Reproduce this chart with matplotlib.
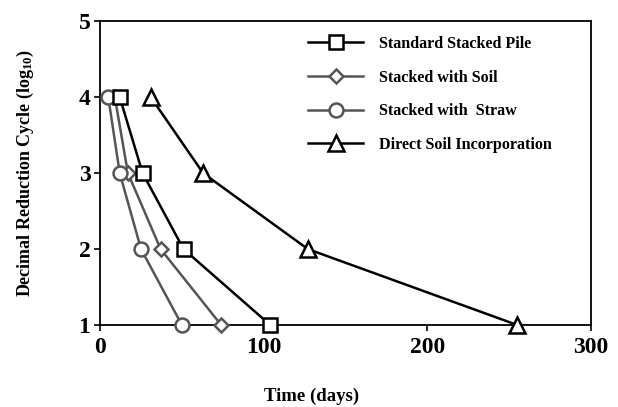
import matplotlib
matplotlib.use('Agg')
import matplotlib.pyplot as plt

plt.rcParams['font.family'] = 'Liberation Serif'
plt.rcParams['font.weight'] = 'bold'
plt.rcParams['mathtext.fontset'] = 'custom'
plt.rcParams['mathtext.rm'] = 'Liberation Serif:bold'
plt.rcParams['mathtext.bf'] = 'Liberation Serif:bold'
plt.rcParams['mathtext.default'] = 'bf'

# data
cycles = [4, 3, 2, 1]
standard_pile = [12, 26, 51, 104]
with_soil = [9, 17, 37, 74]
with_straw = [5, 12, 25, 50]
direct_soil = [31, 63, 127, 255]

# name, values, marker, colour, marker size, z-order
series = [
    ('Standard Stacked Pile', standard_pile, 's', 'black', 10, 5),
    ('Stacked with Soil', with_soil, 'D', '#555555', 7, 3),
    ('Stacked with  Straw', with_straw, 'o', '#555555', 10, 4),
    ('Direct Soil Incorporation', direct_soil, '^', 'black', 11, 3),
]

fig = plt.figure(figsize=(6.18, 4.07), dpi=100)
ax = fig.add_axes([0.162, 0.2015, 0.794, 0.746])

for name, days, mk, col, ms, z in series:
    ax.plot(days, cycles, color=col, lw=1.8, marker=mk, markersize=ms,
            markerfacecolor='white', markeredgecolor=col, markeredgewidth=1.8,
            label=name, clip_on=False, zorder=z)

ax.set_xlim(0, 300)
ax.set_ylim(1, 5)
ax.set_xticks([0, 100, 200, 300])
ax.set_yticks([1, 2, 3, 4, 5])
ax.tick_params(direction='out', length=4, width=1.2, labelsize=17, pad=3)
ax.tick_params(axis='x', pad=5)
for s in ax.spines.values():
    s.set_linewidth(1.3)

ax.set_xlabel('Time (days)', fontsize=13.5, fontweight='bold')
ax.xaxis.set_label_coords(0.43, -0.207)
ax.set_ylabel('Decimal Reduction Cycle (log$_{10}$)', fontsize=13, fontweight='bold')
ax.yaxis.set_label_coords(-0.13, 0.5)

ax.legend(loc='upper left', bbox_to_anchor=(0.395, 1.0), frameon=False,
          fontsize=11.6, handlelength=3.4, labelspacing=1.1, handletextpad=1.0)

plt.savefig('out.png', dpi=100)
